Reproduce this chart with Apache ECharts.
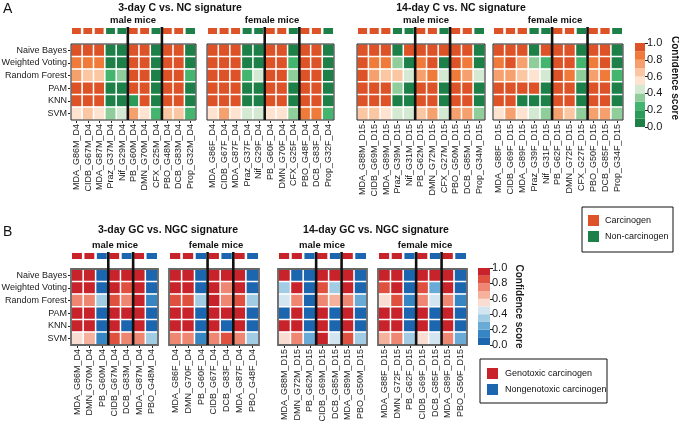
<!DOCTYPE html>
<html><head><meta charset="utf-8">
<script src="https://cdn.jsdelivr.net/npm/echarts@6/dist/echarts.min.js"></script>
<style>html,body{margin:0;padding:0;background:#fff}#c{width:679px;height:425px}</style>
</head><body><div id="c"></div>
<script>
const FONT = '"Liberation Sans", Arial, Helvetica, sans-serif';
const models = ['Naive Bayes','Weighted Voting','Random Forest','PAM','KNN','SVM'];

// ---------- Panel A: carcinogen (1) vs non-carcinogen (0) ----------
const A3m_samples = ['MDA_G86M_D4','CIDB_G67M_D4','MDA_G87M_D4','Praz_G37M_D4','Nif_G29M_D4','PB_G60M_D4','DMN_G70M_D4','CFX_G25M_D4','PBO_G48M_D4','DCB_G83M_D4','Prop_G32M_D4'];
const A3m_class = [1,1,1,0,0,1,1,0,1,1,0];
const A3m_values = [
  [0.97,0.97,0.96,0.03,0.04,0.97,0.96,0.03,0.97,0.96,0.04],
  [0.86,0.87,0.86,0.04,0.05,0.95,0.95,0.04,0.95,0.94,0.05],
  [0.72,0.66,0.66,0.22,0.33,0.93,0.92,0.06,0.93,0.92,0.22],
  [0.97,0.96,0.96,0.03,0.04,0.96,0.95,0.03,0.96,0.96,0.04],
  [0.96,0.96,0.95,0.04,0.05,0.12,0.95,0.04,0.96,0.95,0.05],
  [0.58,0.62,0.58,0.33,0.42,0.72,0.55,0.22,0.68,0.62,0.22]
];
const A3f_samples = ['MDA_G86F_D4','CIDB_G67F_D4','MDA_G87F_D4','Praz_G37F_D4','Nif_G29F_D4','PB_G60F_D4','DMN_G70F_D4','CFX_G25F_D4','PBO_G48F_D4','DCB_G83F_D4','Prop_G32F_D4'];
const A3f_class = [1,1,1,0,0,1,1,0,1,1,0];
const A3f_values = [
  [0.97,0.97,0.96,0.03,0.04,0.97,0.96,0.03,0.97,0.97,0.04],
  [0.96,0.95,0.95,0.04,0.05,0.96,0.95,0.22,0.96,0.95,0.05],
  [0.95,0.94,0.94,0.22,0.45,0.95,0.94,0.33,0.95,0.94,0.05],
  [0.97,0.96,0.96,0.03,0.04,0.96,0.96,0.03,0.96,0.96,0.04],
  [0.96,0.96,0.95,0.04,0.05,0.96,0.95,0.04,0.96,0.95,0.05],
  [0.58,0.72,0.58,0.42,0.42,0.55,0.58,0.33,0.85,0.85,0.22]
];
const A14m_samples = ['MDA_G88M_D15','CIDB_G69M_D15','MDA_G89M_D15','Praz_G39M_D15','Nif_G31M_D15','PB_G62M_D15','DMN_G72M_D15','CFX_G27M_D15','PBO_G50M_D15','DCB_G85M_D15','Prop_G34M_D15'];
const A14m_class = [1,1,1,0,0,1,1,0,1,1,0];
const A14m_values = [
  [0.97,0.96,0.96,0.03,0.95,0.96,0.96,0.93,0.96,0.96,0.04],
  [0.95,0.85,0.86,0.33,0.04,0.88,0.95,0.04,0.90,0.84,0.05],
  [0.95,0.74,0.66,0.62,0.42,0.72,0.88,0.42,0.85,0.75,0.40],
  [0.97,0.96,0.96,0.33,0.04,0.96,0.95,0.03,0.96,0.96,0.04],
  [0.96,0.96,0.95,0.04,0.05,0.96,0.95,0.04,0.96,0.95,0.05],
  [0.60,0.62,0.56,0.42,0.40,0.65,0.75,0.42,0.75,0.72,0.30]
];
const A14f_samples = ['MDA_G88F_D15','CIDB_G69F_D15','MDA_G89F_D15','Praz_G39F_D15','Nif_G31F_D15','PB_G62F_D15','DMN_G72F_D15','CFX_G27F_D15','PBO_G50F_D15','DCB_G85F_D15','Prop_G34F_D15'];
const A14f_class = [1,1,1,0,0,1,1,0,1,1,0];
const A14f_values = [
  [0.97,0.96,0.96,0.03,0.95,0.96,0.96,0.03,0.96,0.96,0.04],
  [0.85,0.95,0.75,0.33,0.22,0.96,0.95,0.22,0.85,0.90,0.04],
  [0.75,0.72,0.65,0.58,0.42,0.95,0.80,0.33,0.72,0.85,0.22],
  [0.97,0.96,0.96,0.95,0.04,0.96,0.95,0.03,0.96,0.96,0.04],
  [0.96,0.96,0.04,0.04,0.05,0.96,0.95,0.04,0.96,0.95,0.05],
  [0.55,0.72,0.58,0.42,0.35,0.72,0.65,0.33,0.75,0.72,0.30]
];
const A_seps = [5,8];

// ---------- Panel B: genotoxic (1) vs nongenotoxic (0) ----------
const B3m_samples = ['MDA_G86M_D4','DMN_G70M_D4','PB_G60M_D4','CIDB_G67M_D4','DCB_G83M_D4','MDA_G87M_D4','PBO_G48M_D4'];
const B3m_class = [1,1,0,1,0,1,0];
const B3m_values = [
  [0.97,0.96,0.03,0.96,0.96,0.97,0.04],
  [0.96,0.95,0.04,0.95,0.80,0.96,0.05],
  [0.78,0.78,0.30,0.85,0.78,0.93,0.18],
  [0.97,0.96,0.03,0.96,0.96,0.96,0.04],
  [0.96,0.96,0.04,0.95,0.04,0.96,0.05],
  [0.56,0.65,0.18,0.85,0.75,0.78,0.35]
];
const B3f_samples = ['MDA_G86F_D4','DMN_G70F_D4','PB_G60F_D4','CIDB_G67F_D4','DCB_G83F_D4','MDA_G87F_D4','PBO_G48F_D4'];
const B3f_class = [1,1,0,1,0,1,0];
const B3f_values = [
  [0.97,0.96,0.03,0.96,0.96,0.97,0.04],
  [0.96,0.95,0.04,0.95,0.78,0.96,0.05],
  [0.85,0.88,0.32,0.95,0.75,0.88,0.30],
  [0.97,0.96,0.03,0.96,0.96,0.96,0.04],
  [0.96,0.96,0.04,0.95,0.04,0.96,0.05],
  [0.72,0.72,0.15,0.75,0.80,0.78,0.35]
];
const B14m_samples = ['MDA_G88M_D15','DMN_G72M_D15','PB_G62M_D15','CIDB_G69M_D15','DCB_G85M_D15','MDA_G89M_D15','PBO_G50M_D15'];
const B14m_class = [1,1,0,1,0,1,0];
const B14m_values = [
  [0.96,0.04,0.03,0.96,0.96,0.97,0.04],
  [0.30,0.95,0.04,0.85,0.30,0.96,0.05],
  [0.42,0.70,0.06,0.70,0.62,0.75,0.20],
  [0.04,0.96,0.03,0.96,0.04,0.96,0.04],
  [0.96,0.96,0.04,0.95,0.04,0.96,0.05],
  [0.55,0.70,0.25,0.92,0.45,0.80,0.30]
];
const B14f_samples = ['MDA_G88F_D15','DMN_G72F_D15','PB_G62F_D15','CIDB_G69F_D15','DCB_G85F_D15','MDA_G89F_D15','PBO_G50F_D15'];
const B14f_class = [1,1,0,1,0,1,0];
const B14f_values = [
  [0.97,0.96,0.03,0.96,0.96,0.97,0.04],
  [0.85,0.96,0.04,0.85,0.20,0.96,0.05],
  [0.56,0.88,0.15,0.70,0.42,0.70,0.10],
  [0.97,0.96,0.03,0.96,0.04,0.96,0.04],
  [0.96,0.96,0.04,0.95,0.04,0.96,0.05],
  [0.65,0.72,0.30,0.58,0.42,0.78,0.20]
];
const B_seps = [3,5];

// colour scale bins (low -> high)
const binEdges = [0,0.1,0.2,0.3,0.4,0.5,0.6,0.7,0.8,0.9,1.0];
const paletteA = ['#1d8048','#2c9a58','#43b56e','#8fcd9a','#d3e9d2','#fde3d0','#fbc6a2','#f5a06d','#ef7a39','#dd5226'];
const paletteB = ['#1c66b0','#3786c4','#6aaad6','#a2cbe4','#d4e5f2','#f9dcd2','#f6b19c','#ee8672','#e0503f','#c8222a'];

const grids = [], xAxes = [], yAxes = [], series = [];
const seriesA = [], seriesB = [];

function addHeatmap(list, samples, classes, values, seps, L) {
  const gM = grids.length;
  grids.push({left: L.left, width: L.width, top: L.top, height: L.height, outerBoundsMode: 'none'});
  xAxes.push({type: 'category', gridIndex: gM, data: samples, position: 'bottom',
    axisLine: {show: false}, splitLine: {show: false},
    axisTick: {show: true, alignWithLabel: true, length: 3, lineStyle: {color: '#222', width: 1}},
    axisLabel: {rotate: 90, fontSize: 9, fontFamily: FONT, color: '#1a1a1a', margin: 4, interval: 0}});
  yAxes.push({type: 'category', gridIndex: gM, data: models, inverse: true,
    axisLine: {show: false}, splitLine: {show: false},
    axisTick: {show: L.showY, alignWithLabel: true, length: 3, lineStyle: {color: '#222', width: 1}},
    axisLabel: {show: L.showY, fontSize: 9, fontFamily: FONT, color: '#1a1a1a', margin: 4, interval: 0}});
  const data = [];
  values.forEach((row, r) => row.forEach((v, c) => data.push([c, r, v])));
  list.push(series.length);
  series.push({type: 'heatmap', xAxisIndex: gM, yAxisIndex: gM, data: data,
    itemStyle: {borderColor: '#fff', borderWidth: 1.5}, emphasis: {disabled: true}, silent: true});
  // annotation strip
  const gA = grids.length;
  grids.push({left: L.left, width: L.width, top: L.annTop, height: L.annH, outerBoundsMode: 'none'});
  xAxes.push({type: 'category', gridIndex: gA, data: samples, show: false});
  yAxes.push({type: 'category', gridIndex: gA, data: ['class'], show: false});
  list.push(series.length);
  series.push({type: 'heatmap', xAxisIndex: gA, yAxisIndex: gA, data: classes.map((k, i) => [i, 0, k]),
    itemStyle: {borderColor: '#fff', borderWidth: 2.5}, emphasis: {disabled: true}, silent: true});
  // box + separators
  const ext = L.top - L.annTop;
  series.push({type: 'custom', xAxisIndex: gM, yAxisIndex: gM, z: 10, silent: true, clip: false,
    data: [[0, 0, 0]].concat(seps.map(s => [s, 0, 1])),
    renderItem: function (params, api) {
      const cs = params.coordSys;
      if (api.value(2) === 0) {
        return {type: 'rect', shape: {x: cs.x, y: cs.y, width: cs.width, height: cs.height},
          style: {fill: 'none', stroke: L.boxColor, lineWidth: L.boxWidth}};
      }
      const w = api.size([1, 1])[0];
      const x = api.coord([api.value(0), 0])[0] - w / 2;
      return {type: 'line', shape: {x1: x, y1: cs.y - ext, x2: x, y2: cs.y + cs.height},
        style: {stroke: '#111', lineWidth: 2.6}};
    }});
}

function addColorbar(palette, L) {
  const g = grids.length;
  grids.push({left: L.left, width: L.width, top: L.top, height: L.height, outerBoundsMode: 'none'});
  xAxes.push({type: 'category', gridIndex: g, data: ['cb'], show: false});
  yAxes.push({type: 'value', gridIndex: g, min: 0, max: 1, interval: 0.2, position: 'right',
    axisLine: {show: false}, splitLine: {show: false},
    axisTick: {show: true, length: 3, lineStyle: {color: '#222', width: 1}},
    axisLabel: {fontSize: 11, fontFamily: FONT, color: '#1a1a1a', margin: 2, formatter: v => v.toFixed(1)},
    name: L.name, nameLocation: 'middle', nameRotate: -90, nameGap: L.nameGap,
    nameTextStyle: {fontSize: 10, fontWeight: 'bold', fontFamily: FONT, color: '#1a1a1a'}});
  palette.forEach((col, i) => {
    series.push({type: 'bar', xAxisIndex: g, yAxisIndex: g, stack: 'cb' + g, barWidth: '100%',
      data: [binEdges[i + 1] - binEdges[i]], itemStyle: {color: col}, silent: true});
  });
}

// Panel A layout
addHeatmap(seriesA, A3m_samples, A3m_class, A3m_values, A_seps, {left: 71, width: 125, top: 44, height: 76, annTop: 27, annH: 8, showY: true, boxColor: '#222', boxWidth: 1});
addHeatmap(seriesA, A3f_samples, A3f_class, A3f_values, A_seps, {left: 207, width: 127, top: 44, height: 76, annTop: 27, annH: 8, showY: false, boxColor: '#222', boxWidth: 1});
addHeatmap(seriesA, A14m_samples, A14m_class, A14m_values, A_seps, {left: 357, width: 128, top: 44, height: 76, annTop: 27, annH: 8, showY: false, boxColor: '#222', boxWidth: 1});
addHeatmap(seriesA, A14f_samples, A14f_class, A14f_values, A_seps, {left: 493, width: 130, top: 44, height: 76, annTop: 27, annH: 8, showY: false, boxColor: '#222', boxWidth: 1});
addColorbar(paletteA, {left: 635, width: 10, top: 43, height: 84, nameGap: 24, name: ''});

// Panel B layout
addHeatmap(seriesB, B3m_samples, B3m_class, B3m_values, B_seps, {left: 71, width: 87, top: 269, height: 76, annTop: 252, annH: 8, showY: true, boxColor: '#666', boxWidth: 1.8});
addHeatmap(seriesB, B3f_samples, B3f_class, B3f_values, B_seps, {left: 169, width: 90, top: 269, height: 76, annTop: 252, annH: 8, showY: false, boxColor: '#666', boxWidth: 1.8});
addHeatmap(seriesB, B14m_samples, B14m_class, B14m_values, B_seps, {left: 278, width: 89, top: 269, height: 76, annTop: 252, annH: 8, showY: false, boxColor: '#666', boxWidth: 1.8});
addHeatmap(seriesB, B14f_samples, B14f_class, B14f_values, B_seps, {left: 378, width: 89, top: 269, height: 76, annTop: 252, annH: 8, showY: false, boxColor: '#666', boxWidth: 1.8});
addColorbar(paletteB, {left: 478, width: 12, top: 268, height: 77, nameGap: 24, name: 'Confidence score'});

function pieces(pal) {
  return pal.map((c, i) => i === pal.length - 1
    ? {gte: binEdges[i], lte: binEdges[i + 1], color: c}
    : {gte: binEdges[i], lt: binEdges[i + 1], color: c});
}

function txt(t, x, y, size, bold, align) {
  return {type: 'text', x: x, y: y, silent: true,
    style: {text: t, fill: '#111', font: (bold ? 'bold ' : '') + size + 'px ' + FONT,
      textAlign: align || 'center', textVerticalAlign: 'middle'}};
}

const cbTitleA = txt('Confidence score', 675, 78, 10, true);
cbTitleA.rotation = -Math.PI / 2;

const graphics = [
  txt('A', 3, 9, 14, false, 'left'),
  txt('3-day C vs. NC signature', 180, 8, 10.5, true),
  txt('male mice', 133, 20, 9.5, true),
  txt('female mice', 272, 20, 9.5, true),
  txt('14-day C vs. NC signature', 461, 8, 10.5, true),
  txt('male mice', 426, 20, 9.5, true),
  txt('female mice', 555, 20, 9.5, true),
  cbTitleA,
  txt('B', 3, 232, 14, false, 'left'),
  txt('3-day GC vs. NGC signature', 168, 230, 10.5, true),
  txt('male mice', 115, 245, 9.5, true),
  txt('female mice', 216, 245, 9.5, true),
  txt('14-day GC vs. NGC signature', 376, 230, 10.5, true),
  txt('male mice', 322, 245, 9.5, true),
  txt('female mice', 425, 245, 9.5, true),
  {type: 'rect', shape: {x: 582, y: 207, width: 91, height: 45}, style: {fill: 'none', stroke: '#111', lineWidth: 1}, silent: true},
  {type: 'rect', shape: {x: 588, y: 215, width: 11, height: 11}, style: {fill: paletteA[9]}, silent: true},
  {type: 'rect', shape: {x: 588, y: 231, width: 11, height: 11}, style: {fill: paletteA[0]}, silent: true},
  txt('Carcinogen', 605, 221, 9, false, 'left'),
  txt('Non-carcinogen', 605, 237, 9, false, 'left'),
  {type: 'rect', shape: {x: 480, y: 359, width: 127, height: 44}, style: {fill: 'none', stroke: '#111', lineWidth: 1}, silent: true},
  {type: 'rect', shape: {x: 487, y: 368, width: 11, height: 11}, style: {fill: paletteB[9]}, silent: true},
  {type: 'rect', shape: {x: 487, y: 384, width: 11, height: 11}, style: {fill: paletteB[0]}, silent: true},
  txt('Genotoxic carcinogen', 505, 374, 9, false, 'left'),
  txt('Nongenotoxic carcinogen', 505, 390, 9, false, 'left')
];

const chart = echarts.init(document.getElementById('c'), null, {renderer: 'canvas'});
chart.setOption({
  animation: false,
  backgroundColor: '#fff',
  textStyle: {fontFamily: FONT},
  grid: grids, xAxis: xAxes, yAxis: yAxes,
  visualMap: [
    {type: 'piecewise', show: false, dimension: 2, seriesIndex: seriesA, pieces: pieces(paletteA)},
    {type: 'piecewise', show: false, dimension: 2, seriesIndex: seriesB, pieces: pieces(paletteB)}
  ],
  series: series,
  graphic: graphics
});
</script></body></html>
